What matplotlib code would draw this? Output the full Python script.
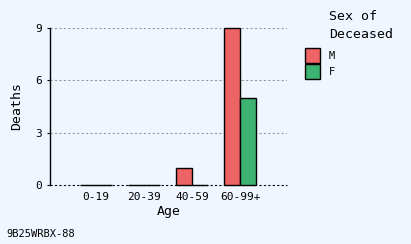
import numpy as np
import matplotlib.pyplot as plt

ages = ['0-19', '20-39', '40-59', '60-99+']
deaths_m = [0, 0, 1, 9]
deaths_f = [0, 0, 0, 5]
yticks = [0, 3, 6, 9]
footer = '9B25WRBX-88'

bg = '#f0f6ff'
red = '#ee6363'
green = '#3cb371'

plt.rcParams['font.family'] = 'DejaVu Sans Mono'

fig = plt.figure(figsize=(4.11, 2.44), dpi=100, facecolor=bg)
ax = fig.add_axes([50 / 411, 1 - 185 / 244, 237 / 411, 157 / 244], facecolor=bg)

x = np.arange(len(ages))
w = 1 / 3
ax.bar(x - w / 2, deaths_m, w, color=red, edgecolor='black', linewidth=1,
       label='M', zorder=3, clip_on=False)
ax.bar(x + w / 2, deaths_f, w, color=green, edgecolor='black', linewidth=1,
       label='F', zorder=3, clip_on=False)

ax.set_xlim(-0.958, 3.979)
ax.set_ylim(0, 9)
ax.set_yticks(yticks)
ax.set_xticks(x)
ax.set_xticklabels(ages)
ax.tick_params(axis='both', labelsize=8, length=2, width=0.8)
ax.tick_params(axis='x', length=0, pad=5)

for v in yticks[1:]:
    ax.axhline(v, color='#999999', linestyle=(0, (2, 2)), linewidth=0.8, zorder=1)
ax.axhline(0, color='black', linestyle=(0, (2, 2)), linewidth=0.8, zorder=2, clip_on=False)

for s in ['top', 'right', 'bottom']:
    ax.spines[s].set_visible(False)
ax.spines['left'].set_linewidth(1)

ax.set_xlabel('Age', fontsize=9.5, labelpad=2)
ax.set_ylabel('Deaths', fontsize=9.5, labelpad=9)

fig.text(329 / 411, 1 - 16 / 244, 'Sex of', fontsize=9.5, va='center', ha='left')
fig.text(329 / 411, 1 - 34 / 244, 'Deceased', fontsize=9.5, va='center', ha='left')

fig.legend(loc='upper left', bbox_to_anchor=(305 / 411, 1 - 48 / 244), frameon=False,
           fontsize=7.5, borderpad=0, borderaxespad=0,
           handlelength=1.45, handleheight=1.8, handletextpad=0.85,
           labelspacing=0.15)

fig.text(6 / 411, 1 - 234 / 244, footer, fontsize=7.5, va='center', ha='left')

fig.savefig('out.png', dpi=100, facecolor=bg)
